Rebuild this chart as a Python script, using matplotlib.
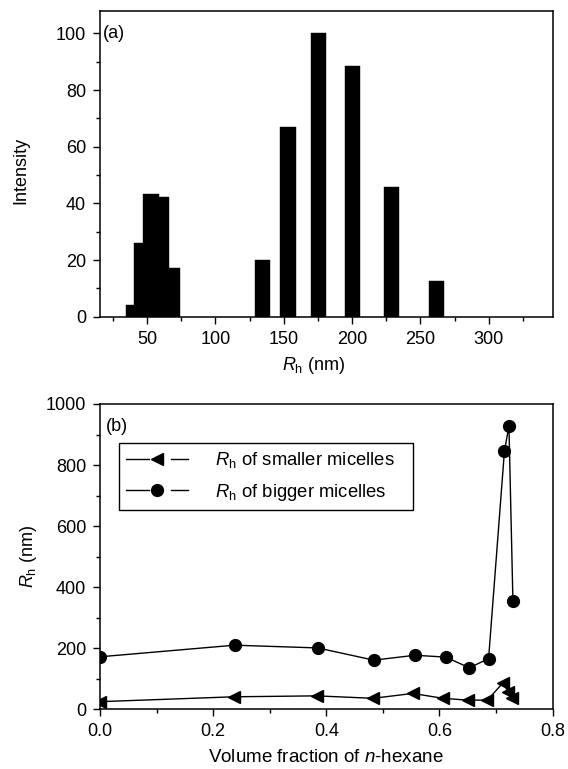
import matplotlib
matplotlib.use("Agg")
import matplotlib.pyplot as plt
from matplotlib.lines import Line2D
from matplotlib.legend_handler import HandlerBase
from matplotlib.ticker import MultipleLocator, FormatStrFormatter

# ---- data ----
rh_centers = [40.3, 46.4, 53.0, 60.3, 68.3, 134.4, 153.2, 175.5, 200.3, 228.9, 261.7]
intensity = [4.3, 25.9, 43.3, 42.2, 17.1, 20.1, 66.9, 100.0, 88.5, 45.8, 12.6]

frac_big = [0.0, 0.238, 0.385, 0.484, 0.557, 0.611, 0.653, 0.687, 0.715, 0.723, 0.730]
rh_big = [172, 210, 201, 161, 177, 171, 136, 166, 845, 928, 356]
frac_small = [0.0, 0.237, 0.383, 0.483, 0.553, 0.606, 0.650, 0.685, 0.712, 0.722, 0.729]
rh_small = [25, 41, 44, 36, 52, 36, 30, 30, 86, 57, 37]

label_small = r"$R_{\mathrm{h}}$ of smaller micelles"
label_big = r"$R_{\mathrm{h}}$ of bigger micelles"

plt.rcParams['font.family'] = ['Liberation Sans', 'DejaVu Sans']
plt.rcParams['mathtext.fontset'] = 'custom'
plt.rcParams['mathtext.rm'] = 'Liberation Sans'
plt.rcParams['mathtext.it'] = 'Liberation Sans:italic'

fig = plt.figure(figsize=(5.68, 7.69), dpi=100)
L, W = 100 / 568, 452.5 / 568
ax1 = fig.add_axes([L, 1 - 316.7 / 769, W, (316.7 - 11) / 769])
ax2 = fig.add_axes([L, 1 - 709.3 / 769, W, (709.3 - 404) / 769])

TFS = 13
LFS = 13


def style(ax):
    for s in ax.spines.values():
        s.set_linewidth(1.1)
    ax.tick_params(which='major', direction='out', length=5, width=1.0, pad=5,
                   labelsize=TFS, top=False, right=False)
    ax.tick_params(which='minor', direction='out', length=3, width=1.0,
                   top=False, right=False)


# ---- panel (a) ----
ax1.bar(rh_centers, intensity, width=11.4, color='black', edgecolor='black', linewidth=0.3)
ax1.set_xlim(15.6, 346.6)
ax1.set_ylim(0, 107.9)
ax1.xaxis.set_major_locator(MultipleLocator(50))
ax1.xaxis.set_minor_locator(MultipleLocator(25))
ax1.yaxis.set_major_locator(MultipleLocator(20))
ax1.yaxis.set_minor_locator(MultipleLocator(10))
style(ax1)
ax1.set_xlabel(r"$\mathit{R}_{\mathrm{h}}$ (nm)", fontsize=LFS, labelpad=5)
ax1.xaxis.label.set_x(0.473)
ax1.set_ylabel("Intensity", fontsize=LFS, labelpad=19)
ax1.yaxis.label.set_y(0.477)
ax1.text(0.006, 0.925, "(a)", transform=ax1.transAxes, fontsize=TFS, va='center', ha='left')

# ---- panel (b) ----
ax2.plot(frac_small, rh_small, color='black', lw=1.0, marker='<', markersize=9,
         clip_on=True, zorder=3)
ax2.plot(frac_big, rh_big, color='black', lw=1.0, marker='o', markersize=8.5,
         clip_on=True, zorder=3)
ax2.set_xlim(0, 0.8)
ax2.set_ylim(0, 1000)
ax2.xaxis.set_major_locator(MultipleLocator(0.2))
ax2.xaxis.set_minor_locator(MultipleLocator(0.1))
ax2.yaxis.set_major_locator(MultipleLocator(200))
ax2.yaxis.set_minor_locator(MultipleLocator(100))
ax2.xaxis.set_major_formatter(FormatStrFormatter('%.1f'))
style(ax2)
ax2.set_xlabel(r"Volume fraction of $\mathit{n}$-hexane", fontsize=13.5, labelpad=6)
ax2.set_ylabel(r"$\mathit{R}_{\mathrm{h}}$ (nm)", fontsize=LFS, labelpad=5)
ax2.text(0.013, 0.925, "(b)", transform=ax2.transAxes, fontsize=TFS, va='center', ha='left')


class GapHandler(HandlerBase):
    def __init__(self, marker, ms):
        super().__init__()
        self.marker = marker
        self.ms = ms

    def create_artists(self, legend, orig_handle, xdescent, ydescent, width, height,
                       fontsize, trans):
        y = height / 2 - ydescent
        x0 = -xdescent
        l1 = Line2D([x0, x0 + 0.38 * width], [y, y], color='black', lw=1.0, transform=trans)
        l2 = Line2D([x0 + 0.73 * width, x0 + width], [y, y], color='black', lw=1.0, transform=trans)
        m = Line2D([x0 + 0.5 * width], [y], marker=self.marker, markersize=self.ms,
                   color='black', lw=0, transform=trans)
        return [l1, l2, m]


h_small = Line2D([], [], color='black', marker='<')
h_big = Line2D([], [], color='black', marker='o')
leg = ax2.legend([h_small, h_big], [label_small + "   ", label_big + "   "],
                 handler_map={h_small: GapHandler('<', 9), h_big: GapHandler('o', 8.5)},
                 loc='upper left', bbox_to_anchor=(0.041, 0.873), borderaxespad=0,
                 fontsize=13.3, handlelength=3.34, handletextpad=1.5, borderpad=0.4,
                 labelspacing=0.62, frameon=True, fancybox=False, edgecolor='black',
                 framealpha=1)
leg.get_frame().set_linewidth(1.0)

fig.savefig("out.png", dpi=100)
